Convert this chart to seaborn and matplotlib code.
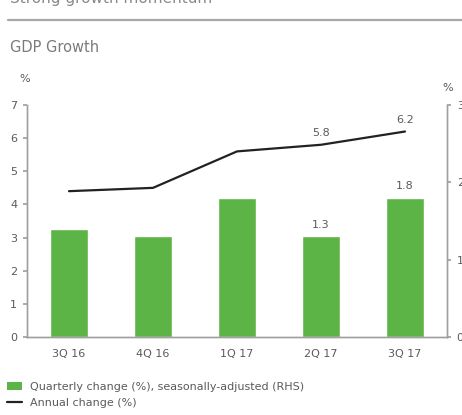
import matplotlib
matplotlib.use("Agg")
import matplotlib.pyplot as plt
import seaborn as sns
import pandas as pd
from matplotlib.patches import Rectangle
from matplotlib.lines import Line2D

quarters = ["3Q 16", "4Q 16", "1Q 17", "2Q 17", "3Q 17"]
quarterly_change = [1.4, 1.3, 1.8, 1.3, 1.8]   # RHS, seasonally adjusted
annual_change = [4.4, 4.5, 5.6, 5.8, 6.2]      # LHS
left_ticks = [0, 1, 2, 3, 4, 5, 6, 7]
right_ticks = [0, 1, 2, 3]

GREEN = "#5BB445"
GREY_AXIS = "#A0A0A0"
GREY_TEXT = "#5A5A5A"

sns.set_theme(style="white")
plt.rcParams["font.family"] = ["DejaVu Sans"]

df = pd.DataFrame({"quarter": quarters,
                   "pos": range(len(quarters)),
                   "quarterly": quarterly_change,
                   "annual": annual_change})

fig = plt.figure(figsize=(4.62, 4.15), dpi=100)
ax = fig.add_axes([27 / 462, 1 - 337 / 415, 420 / 462, 232 / 415])
ax2 = ax.twinx()

# Bars on the right-hand scale
sns.barplot(data=df, x="pos", y="quarterly", color=GREEN, saturation=1,
            width=0.45, ax=ax2, native_scale=True)
# Annual change line on the left-hand scale
sns.lineplot(data=df, x="pos", y="annual", color="#222222", linewidth=1.6, ax=ax)

ax.set_zorder(ax2.get_zorder() + 1)
ax.patch.set_visible(False)

for a in (ax, ax2):
    a.set_xlim(-0.5, len(quarters) - 0.5)
    a.set_xlabel("")
    a.set_ylabel("")
    a.spines["top"].set_visible(False)
    for s in ("left", "right", "bottom"):
        a.spines[s].set_color(GREY_AXIS)
        a.spines[s].set_linewidth(1.0)

ax.set_ylim(0, 7)
ax.set_yticks(left_ticks)
ax2.set_ylim(0, 3)
ax2.set_yticks(right_ticks)

# Category labels centred, tick marks between categories
ax.set_xticks(range(len(quarters)))
ax.set_xticklabels(quarters)
ax.set_xticks([i + 0.5 for i in range(len(quarters))], minor=True)
ax.tick_params(axis="x", which="major", length=0, pad=9, labelsize=8, labelcolor=GREY_TEXT)
ax.tick_params(axis="x", which="minor", length=3, color=GREY_AXIS, direction="out")
ax.tick_params(axis="y", length=3, color=GREY_AXIS, direction="out", pad=4,
               labelsize=8, labelcolor=GREY_TEXT, left=True)
ax2.tick_params(axis="y", length=3, color=GREY_AXIS, direction="out", pad=4,
                labelsize=8, labelcolor=GREY_TEXT, right=True)
ax2.tick_params(axis="x", length=0, labelbottom=False)

# Value labels
for i, q in enumerate(quarters):
    if q in ("2Q 17", "3Q 17"):
        ax.annotate(f"{annual_change[i]:.1f}", (i, annual_change[i]),
                    xytext=(0, 5), textcoords="offset points", ha="center",
                    va="bottom", fontsize=8, color=GREY_TEXT)
        ax2.annotate(f"{quarterly_change[i]:.1f}", (i, quarterly_change[i]),
                     xytext=(0, 5), textcoords="offset points", ha="center",
                     va="bottom", fontsize=8, color=GREY_TEXT)

# Units above each axis
fig.text(25 / 462, 1 - 79 / 415, "%", fontsize=8, color=GREY_TEXT, ha="center", va="center")
fig.text(448 / 462, 1 - 88 / 415, "%", fontsize=8, color=GREY_TEXT, ha="center", va="center")

# Section heading (running off the top edge), rule and chart title
fig.text(10 / 462, 1 + 1 / 415, "Strong growth momentum", fontsize=11,
         color="#8A8A8A", ha="left", va="center")
fig.add_artist(Line2D([8 / 462, 1], [1 - 20 / 415] * 2, color="#A8A8A8",
                      linewidth=1.6, transform=fig.transFigure))
fig.text(10 / 462, 1 - 47 / 415, "GDP Growth", fontsize=10.5, color="#7A7A7A",
         ha="left", va="center")

# Legend
handles = [Rectangle((0, 0), 1, 1, facecolor=GREEN, edgecolor="none"),
           Line2D([], [], color="#222222", linewidth=1.6)]
labels = ["Quarterly change (%), seasonally-adjusted (RHS)", "Annual change (%)"]
fig.legend(handles, labels, loc="upper left", bbox_to_anchor=(0 / 462, 1 - 375 / 415),
           frameon=False, fontsize=8, labelcolor=GREY_TEXT, handlelength=1.4,
           handleheight=0.7, handletextpad=0.7, labelspacing=0.55, borderaxespad=0.2)

fig.savefig("out.png", dpi=100)
